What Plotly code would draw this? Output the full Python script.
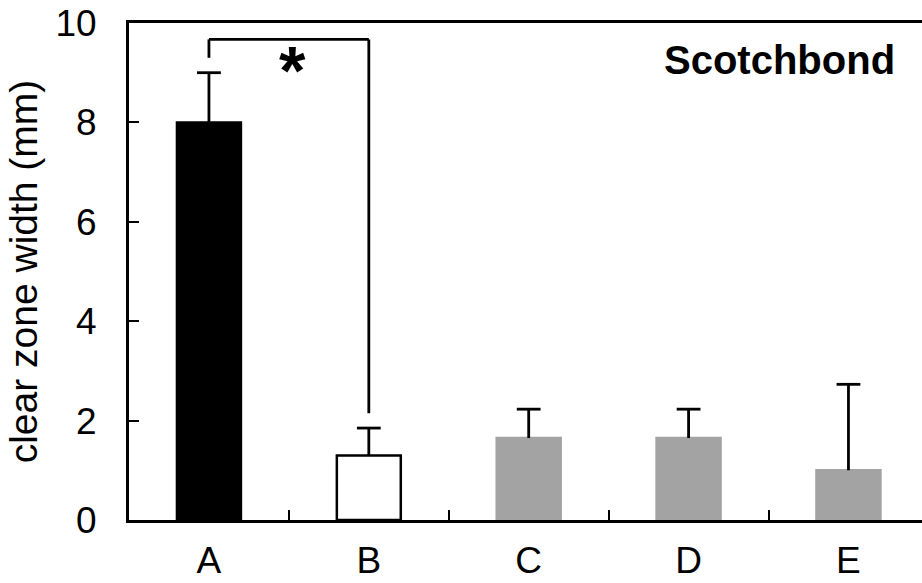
import plotly.graph_objects as go

# Groups, mean clear-zone widths (mm) and upper error (SD)
groups = ["A", "B", "C", "D", "E"]
means = [8.0, 1.3, 1.65, 1.65, 1.0]
errors = [1.0, 0.55, 0.58, 0.58, 1.73]
panel_label = "Scotchbond"
y_ticks = [0, 2, 4, 6, 8, 10]

fill_colors = ["#000000", "#ffffff", "#a3a3a3", "#a3a3a3", "#a3a3a3"]
edge_colors = ["#000000", "#000000", "#a3a3a3", "#a3a3a3", "#a3a3a3"]

FONT = "Liberation Sans, Arial, sans-serif"

fig = go.Figure()
fig.add_trace(go.Bar(
    x=groups,
    y=means,
    width=0.4,
    marker=dict(color=fill_colors, line=dict(color=edge_colors, width=2.5)),
    # upward-only stems; the caps are drawn by the marker trace below
    error_y=dict(type="data", symmetric=False, array=errors,
                 arrayminus=[0] * len(errors),
                 color="#000000", thickness=2.8, width=0),
    showlegend=False,
))

# caps at the top of each error bar
tops = [m + e for m, e in zip(means, errors)]
fig.add_trace(go.Scatter(
    x=groups, y=tops, mode="markers",
    marker=dict(symbol="line-ew", size=17, line=dict(color="#000000", width=2.8)),
    showlegend=False, hoverinfo="skip",
))

# significance bracket between groups A and B
bracket_y = 9.67
gap = 0.3
bx = [0, 0, 1, 1]
by = [tops[0] + gap, bracket_y, bracket_y, tops[1] + gap]
for i in range(3):
    fig.add_shape(type="line", xref="x", yref="y",
                  x0=bx[i], y0=by[i], x1=bx[i + 1], y1=by[i + 1],
                  line=dict(color="#000000", width=2.8))
fig.add_annotation(x=0.52, y=9.2, xref="x", yref="y", text="<b>*</b>",
                   yanchor="middle", yshift=-7,
                   showarrow=False, font=dict(family=FONT, size=68, color="#000000"))

fig.add_annotation(x=0.968, y=0.925, xref="paper", yref="paper",
                   xanchor="right", yanchor="middle", text=f"<b>{panel_label}</b>",
                   showarrow=False, font=dict(family=FONT, size=40, color="#000000"))

fig.update_layout(
    width=922, height=583,
    margin=dict(l=129, r=0, t=23, b=63, autoexpand=False),
    paper_bgcolor="white", plot_bgcolor="white",
    font=dict(family=FONT, color="#000000"),
)
fig.update_xaxes(
    type="category",
    range=[-0.5, 4.46],
    showline=True, linecolor="#000000", linewidth=2.8, mirror=True,
    ticks="inside", tickson="boundaries", ticklen=10, tickwidth=2,
    tickcolor="#000000",
    tickfont=dict(family=FONT, size=37),
    ticklabelstandoff=6,
    showgrid=False, zeroline=False,
    automargin=False,
)
fig.update_yaxes(
    range=[0, 10], tickvals=y_ticks,
    showline=True, linecolor="#000000", linewidth=2.8,
    ticks="inside", ticklen=10, tickwidth=2, tickcolor="#000000",
    tickfont=dict(family=FONT, size=37),
    ticklabelstandoff=22,
    title=dict(text="clear zone width (mm)", font=dict(family=FONT, size=39),
               standoff=6),
    showgrid=False, zeroline=False,
    automargin=False,
)

fig.write_html("out.html")
